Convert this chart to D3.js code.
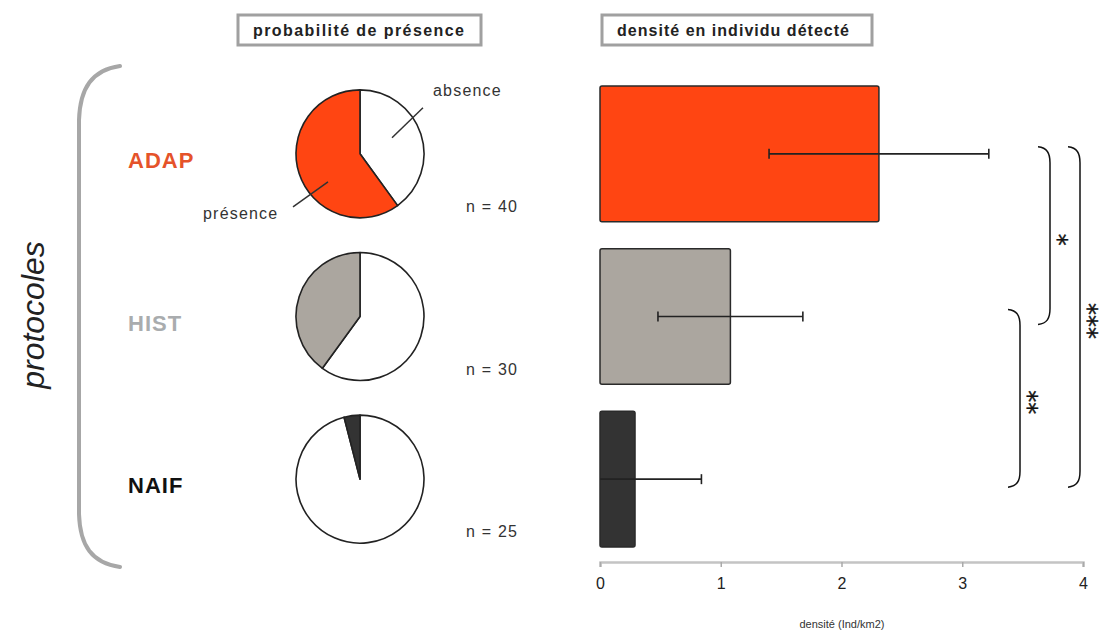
<!DOCTYPE html>
<html>
<head>
<meta charset="utf-8">
<script src="https://cdn.jsdelivr.net/npm/d3@7"></script>
<style>
  html, body { margin: 0; padding: 0; background: #fff; }
  svg { display: block; font-family: "Liberation Sans", Arial, sans-serif; }
</style>
</head>
<body>
<svg id="chart" width="1103" height="632"></svg>
<script>
// Protocol groups and their survey results
const protocols = ["ADAP", "HIST", "NAIF"];
const sampleSizes = [40, 30, 25];
const presenceCounts = [24, 12, 1];
const densityMeans = [2.31, 1.08, 0.29];
const densityErrors = [0.91, 0.60, 0.55];
const densityTicks = [0, 1, 2, 3, 4];
const comparisonPairs = [["ADAP", "HIST"], ["HIST", "NAIF"], ["ADAP", "NAIF"]];
const comparisonLabels = ["*", "**", "***"];

const fillColors = ["#ff4512", "#aba69f", "#333333"];
const labelColors = ["#e5532a", "#a9acae", "#111111"];

const svg = d3.select("#chart");

// Shared vertical layout for the three protocols
const y = d3.scaleBand().domain(protocols).range([86, 547]).paddingInner(0.166).paddingOuter(0);
const cy = p => y(p) + y.bandwidth() / 2;

// Density axis
const x = d3.scaleLinear().domain([0, 4]).range([600, 1083]);

// Panel title boxes
function titleBox(x0, y0, w, h, text, len) {
  svg.append("rect").attr("x", x0).attr("y", y0).attr("width", w).attr("height", h)
    .attr("fill", "#fff").attr("stroke", "#a0a0a0").attr("stroke-width", 3);
  svg.append("text").attr("x", x0 + 15).attr("y", y0 + h / 2 + 6)
    .attr("font-size", 16).attr("font-weight", "bold").attr("fill", "#222")
    .attr("textLength", len).attr("lengthAdjust", "spacing").text(text);
}
titleBox(238, 15, 243, 30, "probabilité de présence", 211);
titleBox(602, 15, 270, 30, "densité en individu détecté", 232);

// Left brace and axis title
svg.append("path")
  .attr("d", "M120,66 C92,70 80,88 79,120 L79,514 C80,546 92,563 120,567")
  .attr("fill", "none").attr("stroke", "#a7a7a7").attr("stroke-width", 4).attr("stroke-linecap", "round");
svg.append("text")
  .attr("transform", "translate(44,315) rotate(-90)")
  .attr("text-anchor", "middle").attr("font-size", 32).attr("font-style", "italic")
  .attr("fill", "#222").text("protocoles");

// Protocol labels
svg.selectAll(".plabel").data(protocols).join("text")
  .attr("class", "plabel")
  .attr("x", 128).attr("y", p => cy(p) + 14)
  .attr("font-size", 22).attr("font-weight", "bold").attr("letter-spacing", 1)
  .attr("fill", (p, i) => labelColors[i]).text(p => p);

// Pies: presence share drawn counter-clockwise from 12 o'clock
const pie = d3.pie().sort(null).value(d => d.value);
const arc = d3.arc().innerRadius(0).outerRadius(64);
protocols.forEach((p, i) => {
  const n = sampleSizes[i];
  const parts = [
    { key: "absence", value: n - presenceCounts[i], fill: "#fff" },
    { key: "présence", value: presenceCounts[i], fill: fillColors[i] }
  ];
  const g = svg.append("g").attr("transform", `translate(360,${cy(p)})`);
  g.selectAll("path").data(pie(parts)).join("path")
    .attr("d", arc).attr("fill", d => d.data.fill)
    .attr("stroke", "#222").attr("stroke-width", 1.6).attr("stroke-linejoin", "round");
  svg.append("text").attr("x", 466).attr("y", cy(p) + 58)
    .attr("font-size", 16).attr("letter-spacing", 1.2).attr("fill", "#333").text(`n = ${n}`);
});

// Pie callouts on the first protocol
const c0 = cy(protocols[0]);
svg.append("line").attr("x1", 392).attr("y1", c0 - 16).attr("x2", 423).attr("y2", c0 - 46)
  .attr("stroke", "#333").attr("stroke-width", 1.5);
svg.append("text").attr("x", 433).attr("y", c0 - 58).attr("font-size", 16).attr("letter-spacing", 1.2)
  .attr("fill", "#333").text("absence");
svg.append("line").attr("x1", 293).attr("y1", c0 + 53).attr("x2", 328).attr("y2", c0 + 28)
  .attr("stroke", "#333").attr("stroke-width", 1.5);
svg.append("text").attr("x", 203).attr("y", c0 + 65).attr("font-size", 16).attr("letter-spacing", 1.2)
  .attr("fill", "#333").text("présence");

// Density bars
svg.selectAll(".bar").data(protocols).join("rect")
  .attr("class", "bar")
  .attr("x", x(0)).attr("y", p => y(p))
  .attr("width", (p, i) => x(densityMeans[i]) - x(0)).attr("height", y.bandwidth())
  .attr("rx", 2)
  .attr("fill", (p, i) => fillColors[i]).attr("stroke", "#2a2a2a").attr("stroke-width", 1.5);

// Error bars (lower limit clipped at zero)
protocols.forEach((p, i) => {
  const lo = Math.max(0, densityMeans[i] - densityErrors[i]);
  const hi = densityMeans[i] + densityErrors[i];
  const yy = cy(p);
  const g = svg.append("g").attr("stroke", "#222").attr("stroke-width", 1.6);
  g.append("line").attr("x1", x(lo)).attr("x2", x(hi)).attr("y1", yy).attr("y2", yy);
  if (densityMeans[i] - densityErrors[i] > 0)
    g.append("line").attr("x1", x(lo)).attr("x2", x(lo)).attr("y1", yy - 5).attr("y2", yy + 5);
  g.append("line").attr("x1", x(hi)).attr("x2", x(hi)).attr("y1", yy - 5).attr("y2", yy + 5);
});

// Bottom axis
const axis = svg.append("g").attr("transform", "translate(0,562)")
  .call(d3.axisBottom(x).tickValues(densityTicks).tickFormat(d3.format("d")).tickSize(5).tickPadding(11));
axis.select(".domain").attr("stroke", "#c4c4c4").attr("stroke-width", 2.5);
axis.selectAll(".tick line").attr("stroke", "#aaa").attr("stroke-width", 1.5);
axis.selectAll(".tick text").attr("font-size", 16).attr("fill", "#222").attr("font-family", "Liberation Sans, Arial, sans-serif");
svg.append("text").attr("x", 842).attr("y", 628).attr("text-anchor", "middle")
  .attr("font-size", 11).attr("fill", "#333").text("densité (Ind/km2)");

// Significance brackets between protocols
const bracketX = [1050, 1020, 1080];
comparisonPairs.forEach(([a, b], i) => {
  const top = cy(a) - 7, bot = cy(b) + 8, bx = bracketX[i];
  svg.append("path")
    .attr("d", `M${bx - 12},${top} C${bx - 3},${top + 1} ${bx},${top + 6} ${bx},${top + 16} L${bx},${bot - 16} C${bx},${bot - 6} ${bx - 3},${bot - 1} ${bx - 12},${bot}`)
    .attr("fill", "none").attr("stroke", "#111").attr("stroke-width", 1.5);
  svg.append("text")
    .attr("transform", `translate(${bx},${(top + bot) / 2 + 4}) rotate(90)`)
    .attr("text-anchor", "middle").attr("font-size", 24).attr("fill", "#111")
    .attr("font-family", "DejaVu Sans, sans-serif")
    .attr("stroke", "#111").attr("stroke-width", 0.4)
    .text(comparisonLabels[i]);
});
</script>
</body>
</html>
